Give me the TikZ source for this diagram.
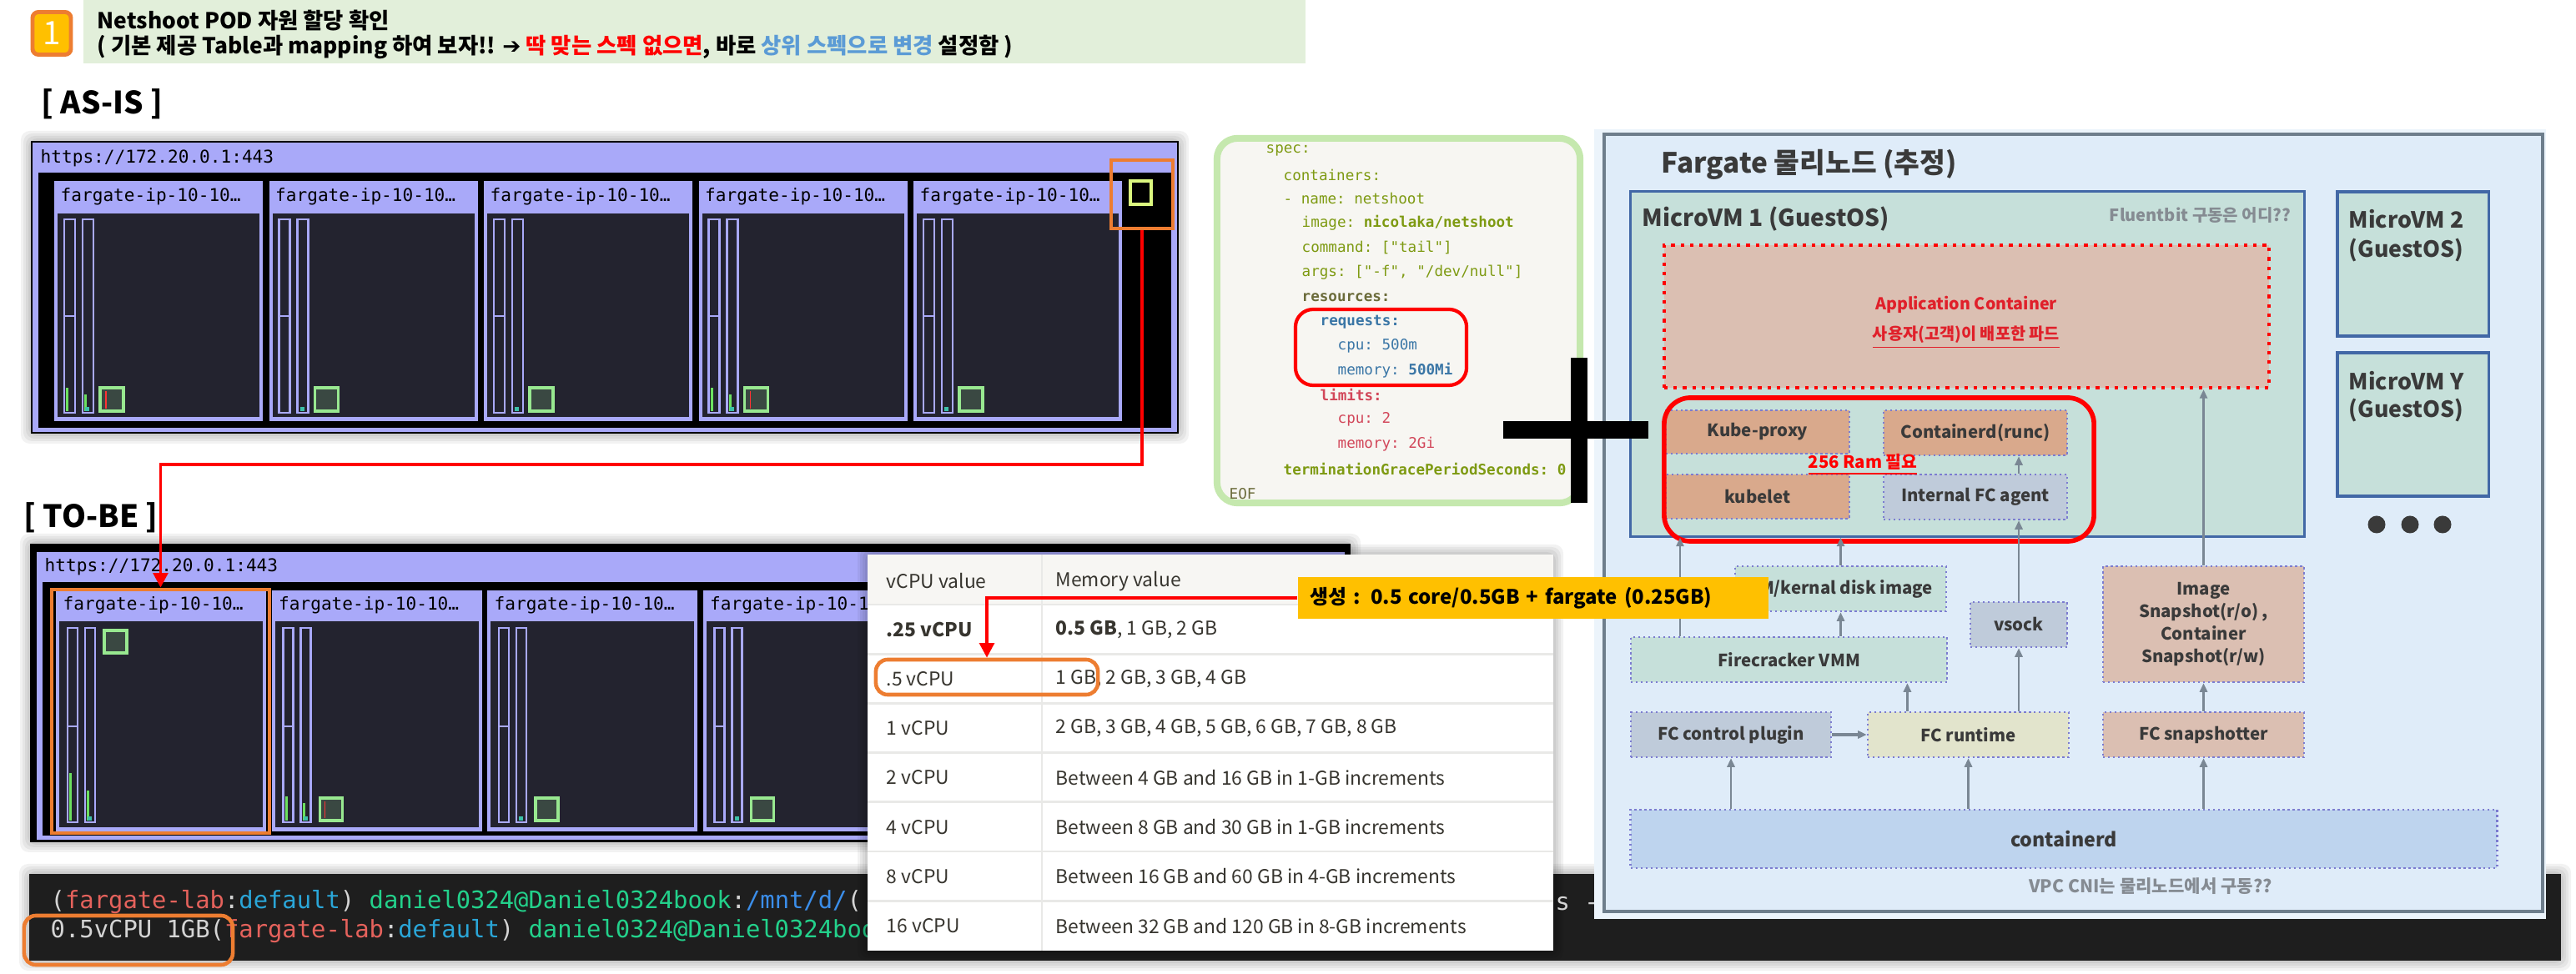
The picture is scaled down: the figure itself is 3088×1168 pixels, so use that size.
\documentclass[tikz,border=0pt]{standalone}
\usepackage{fontspec}
\setmainfont{Noto Sans CJK KR}
\setmonofont{DejaVu Sans Mono}
\newfontfamily\symfont{DejaVu Sans}
\usetikzlibrary{arrows.meta,calc}

\definecolor{lav}{HTML}{A9A9F9}
\definecolor{cardbg}{HTML}{23232F}
\definecolor{podgreen}{HTML}{98E890}
\definecolor{podfill}{HTML}{3A4842}
\definecolor{barlime}{HTML}{6CE060}
\definecolor{barteal}{HTML}{3CC0A8}
\definecolor{hlorange}{HTML}{ED7D31}
\definecolor{callyellow}{HTML}{FFC000}
\definecolor{bannergreen}{HTML}{E2EFDA}
\definecolor{upblue}{HTML}{5B9BD5}
\definecolor{tabtext}{HTML}{37352F}
\definecolor{tabhead}{HTML}{F7F6F3}
\definecolor{tabline}{HTML}{E9E9E7}
\definecolor{termbg}{HTML}{1E1E1E}
\definecolor{termgray}{HTML}{D4D4D4}
\definecolor{termred}{HTML}{E5625C}
\definecolor{termcyan}{HTML}{2AA6D8}
\definecolor{termgreen}{HTML}{23D18B}
\definecolor{termblue}{HTML}{3B8EEA}
\definecolor{yamlolive}{HTML}{7E9A12}
\definecolor{yamldark}{HTML}{6B6B3A}
\definecolor{yamlblue}{HTML}{3A76A6}
\definecolor{yamlred}{HTML}{D2475A}
\definecolor{yamlbg}{HTML}{F7F6F2}
\definecolor{yamlframe}{HTML}{C5E8AE}
\definecolor{fgbg}{HTML}{DFECF9}
\definecolor{fgframe}{HTML}{6E7E8C}
\definecolor{vmteal}{HTML}{C6E0DA}
\definecolor{vmedge}{HTML}{4268A6}
\definecolor{salmon}{HTML}{DBBFB2}
\definecolor{salmondk}{HTML}{D9A98C}
\definecolor{slate}{HTML}{BFCBDA}
\definecolor{cream}{HTML}{E2E4CC}
\definecolor{ctrblue}{HTML}{BED4EE}
\definecolor{dotedge}{HTML}{7C7CD0}
\definecolor{fgtext}{HTML}{3A3A3A}
\definecolor{fgnote}{HTML}{858B92}
\definecolor{arrowgray}{HTML}{7A8794}
\definecolor{notered}{HTML}{E0202A}

\newcommand\setsz[1]{\fontsize{#1}{#1}\selectfont}
\newcommand\panelhalo[4]{%
  \foreach \h in {3,6,9,12}
    \fill[black, opacity=0.05, rounded corners=3pt] (#1-\h,#2-\h) rectangle (#3+\h,#4+\h);}

\begin{document}
\begin{tikzpicture}[x=0.01cm, y=-0.01cm, font=\setsz{6pt},
  txt/.style={inner sep=0pt},
  lavbar/.style={draw=lav, line width=0.6pt},
  pod/.style={draw=podgreen, line width=1.1pt, fill=podfill},
  hlbox/.style={draw=hlorange, line width=1.3pt},
  redarr/.style={red, line width=1.1pt, -{Triangle[length=5pt, width=5pt]}},
  garrow/.style={arrowgray, line width=0.7pt, -{Triangle[length=3pt, width=2.6pt]}},
  fgbox/.style={draw=dotedge, densely dotted, line width=0.7pt, text=fgtext, font=\setsz{5.8pt}\bfseries},
  vmbox/.style={draw=vmedge, line width=0.9pt, fill=vmteal},
  yamlline/.style={txt, anchor=west, font=\ttfamily\setsz{5pt}}]
\fill[white] (0,0) rectangle (3088,1168);
\useasboundingbox (0,0) rectangle (3088,1168);

% title banner
\fill[bannergreen] (100,0) rectangle (1565,76);
\node[draw=hlorange, fill=callyellow, line width=1.4pt, rounded corners=2pt, minimum width=0.46cm, minimum height=0.47cm,
  text=white, font=\setsz{11pt}] (numbadge) at (62,40) {1};
\node[txt, anchor=west, font=\setsz{7.5pt}\bfseries] (ttl) at (116,25) {Netshoot POD 자원 할당 확인};
\node[txt, anchor=west, font=\setsz{7.5pt}\bfseries] (subttl) at (116,56) {( 기본 제공 Table과 mapping 하여 보자!! {\symfont\bfseries ➔} \textcolor{red}{딱 맞는 스펙 없으면}, 바로 \textcolor{upblue}{상위 스펙으로 변경} 설정함 )};

% AS-IS dashboard
\node[txt, anchor=west, font=\setsz{10.5pt}\bfseries] (asis) at (49,125) {[ AS-IS ]};
\panelhalo{37}{169}{1413}{520}
\fill[black] (37,169) rectangle (1413,520);
\fill[lav] (39,171) rectangle (1411,518);
\fill[black] (46,207) rectangle (1404,513);
\node[txt, anchor=west, font=\ttfamily\setsz{6pt}] (asurl) at (48,190) {https://172.20.0.1:443};
\foreach \i/\ga/\gb/\rl in {0/248/256/1, 1/0/0/0, 2/0/0/0, 3/248/256/1, 4/0/0/0} {
  \begin{scope}[shift={(65+257.5*\i,217)}]
    \fill[lav] (0,0) rectangle (250,288);
    \fill[cardbg] (4,39) rectangle (246,283);
    \node[txt, anchor=west, font=\ttfamily\setsz{6pt}] (asname\i) at (7,19) {fargate-ip-10-10…};
    \draw[lavbar] (12,46) rectangle (25,278) (12,162) -- (25,162) (34,46) rectangle (47,278);
    \ifnum\ga>0
      \fill[barlime] (14,\ga) rectangle (17,276);
      \fill[barlime] (36,\gb) rectangle (39,276);
    \fi
    \fill[barteal] (37,271) rectangle (42,276);
    \draw[pod] (55,248) rectangle (83,276);
    \ifnum\rl=1 \draw[red!80, line width=0.5pt] (62,252) -- (62,273); \fi
  \end{scope}
}
\draw[draw=podgreen!50!yellow!70!white, line width=1.1pt, fill=black] (1355,217) rectangle (1380,245);
\node[hlbox, minimum width=0.74cm, minimum height=0.82cm] (ashl) at (1369,233) {};

% TO-BE dashboard
\node[txt, anchor=west, font=\setsz{10.5pt}\bfseries] (tobe) at (28,621) {[ TO-BE ]};
\panelhalo{36}{652}{1619}{1010}
\fill[black] (36,652) rectangle (1619,1010);
\fill[lav] (44,662) rectangle (1612,1007);
\fill[black] (51,698) rectangle (1605,1002);
\node[txt, anchor=west, font=\ttfamily\setsz{6pt}] (tburl) at (53,680) {https://172.20.0.1:443};
\foreach \i/\ga/\gb/\py/\rl in {0/219/240/48/0, 1/247/255/249/1, 2/0/0/249/0, 3/0/0/249/0} {
  \begin{scope}[shift={(67+258.5*\i,708)}]
    \fill[lav] (0,0) rectangle (252,289);
    \fill[cardbg] (4,37) rectangle (248,284);
    \node[txt, anchor=west, font=\ttfamily\setsz{6pt}] (tbname\i) at (8,18) {fargate-ip-10-10…};
    \draw[lavbar] (14,45) rectangle (26,278) (14,163) -- (26,163) (35,45) rectangle (47,278);
    \ifnum\ga>0
      \fill[barlime] (16,\ga) rectangle (19,276);
      \fill[barlime] (37,\gb) rectangle (40,276);
    \fi
    \fill[barteal] (38,271) rectangle (43,276);
    \draw[pod] (58,\py) rectangle (85,\py+27);
    \ifnum\rl=1 \draw[red!80, line width=0.5pt] (64,\py+4) -- (64,\py+24); \fi
  \end{scope}
}
\node[hlbox, minimum width=2.61cm, minimum height=2.92cm] (tobehl) at (192.5,853) {};

% terminal
\panelhalo{35}{1048}{3070}{1152}
\fill[termbg] (35,1048) rectangle (3070,1152);
\node[txt, anchor=west, font=\ttfamily\setsz{8.2pt}, text=termgray] (tline1) at (60,1082)
  {(\textcolor{termred}{fargate-lab}:\textcolor{termcyan}{default}) \textcolor{termgreen}{daniel0324@Daniel0324book}:\textcolor{termblue}{/mnt/d/}(};
\node[txt, anchor=west, font=\ttfamily\setsz{8.2pt}, text=termgray] (tline2) at (60,1117)
  {0.5vCPU 1GB(\textcolor{termred}{fargate-lab}:\textcolor{termcyan}{default}) \textcolor{termgreen}{daniel0324@Daniel0324book}};
\node[draw=hlorange, line width=1.3pt, rounded corners=4pt, minimum width=2.5cm, minimum height=0.59cm] (termhl) at (154,1127.5) {};

% Fargate vCPU / memory table
\panelhalo{1040}{665}{1862}{1140}
\fill[white] (1040,665) rectangle (1862,1140);
\fill[tabhead] (1040,665) rectangle (1862,725);
\draw[tabline, line width=0.8pt] (1249,665) -- (1249,1140);
\node[txt, anchor=west, text=tabtext, font=\setsz{6.5pt}] (hcpu) at (1062,697) {vCPU value};
\node[txt, anchor=west, text=tabtext, font=\setsz{6.5pt}] (hmem) at (1265,697) {Memory value};
\foreach \r/\cpu/\mem in {1/{\textbf{.25 vCPU}}/{\textbf{0.5 GB}, 1 GB, 2 GB},
    2/{.5 vCPU}/{1 GB, 2 GB, 3 GB, 4 GB},
    3/{1 vCPU}/{2 GB, 3 GB, 4 GB, 5 GB, 6 GB, 7 GB, 8 GB},
    4/{2 vCPU}/{Between 4 GB and 16 GB in 1-GB increments},
    5/{4 vCPU}/{Between 8 GB and 30 GB in 1-GB increments},
    6/{8 vCPU}/{Between 16 GB and 60 GB in 4-GB increments},
    7/{16 vCPU}/{Between 32 GB and 120 GB in 8-GB increments}} {
  \draw[tabline, line width=0.8pt] (1040,725+59.2*\r-59.2) -- (1862,725+59.2*\r-59.2);
  \node[txt, anchor=west, text=tabtext, font=\setsz{6.5pt}] (cpu\r) at (1062,755+59.2*\r-59.2) {\cpu};
  \node[txt, anchor=west, text=tabtext, font=\setsz{6.5pt}] (mem\r) at (1265,755+59.2*\r-59.2) {\mem};
}
\node[draw=hlorange, line width=1.3pt, rounded corners=4pt, minimum width=2.66cm, minimum height=0.42cm] (pickhl) at (1183,812) {};
\node[txt, anchor=west, font=\ttfamily\setsz{8.2pt}, text=termgray] (tfrag) at (1864,1084) {s -};

% pod spec
\node[draw=yamlframe, line width=2.3pt, fill=yamlbg, rounded corners=7pt, minimum width=4.35cm, minimum height=4.37cm] (yaml) at (1676.5,384.5) {};
\foreach \x/\y/\c/\t in {1517/180/yamlolive/{spec:}, 1538/210/yamlolive/{containers:},
    1538/238/yamlolive/{- name: netshoot}, 1560/267/yamlolive/{image: \textbf{nicolaka/netshoot}},
    1560/297/yamlolive/{command: ["tail"]}, 1560/327/yamlolive/{args: ["-f", "/dev/null"]},
    1560/357/yamldark/{\textbf{resources:}}, 1582/386/yamlblue/{\textbf{requests:}},
    1603/415/yamlblue/{cpu: 500m}, 1603/444/yamlblue/{memory: \textbf{500Mi}},
    1582/473/yamlred/{\textbf{limits:}}, 1603/503/yamlred/{cpu: 2}, 1603/533/yamlred/{memory: 2Gi},
    1538/562/yamlolive/{\textbf{terminationGracePeriodSeconds: 0}}, 1473/592/yamldark/{EOF}} {
  \node[yamlline, text=\c] (yl\y) at (\x,\y) {\t};
}
\node[draw=red, line width=1.2pt, rounded corners=6pt, minimum width=2.05cm, minimum height=0.91cm] (reqhl) at (1655.5,416.5) {};

% Fargate node (guessed layout)
\fill[fgbg!60!white] (1911,155) rectangle (3052,1102);
\draw[fgframe, line width=1.2pt, fill=fgbg] (1923,161) rectangle (3048,1093);
\node[txt, anchor=west, text=fgtext, font=\setsz{9.5pt}\bfseries] (fgtitle) at (1991,197) {Fargate 물리노드 (추정)};
\node[vmbox, minimum width=8.07cm, minimum height=4.13cm] (mvm1) at (2358.5,436.5) {};
\node[txt, anchor=west, text=fgtext, font=\setsz{8pt}\bfseries] (mvm1lbl) at (1968,263) {MicroVM 1 (GuestOS)};
\node[txt, anchor=east, text=fgnote, font=\setsz{5.7pt}\bfseries] (fluent) at (2747,258) {Fluentbit 구동은 어디??};
\node[draw=red, dotted, line width=1.2pt, fill=salmon, minimum width=7.25cm, minimum height=1.71cm] (app) at (2357.5,379.5) {};
\node[txt, text=notered, font=\setsz{5.6pt}\bfseries] (apptxt) at (2357,365) {Application Container};
\node[txt, text=notered, font=\setsz{5.6pt}\bfseries] (appko) at (2357,405) {\underline{사용자(고객)이 배포한 파드}};
\node[fgbox, fill=salmondk, minimum width=2.2cm, minimum height=0.52cm] (kproxy) at (2107,518) {Kube-proxy};
\node[fgbox, fill=salmondk, minimum width=2.2cm, minimum height=0.54cm] (runc) at (2368,519) {Containerd(runc)};
\node[fgbox, fill=salmondk, minimum width=2.2cm, minimum height=0.53cm] (kubelet) at (2107,595.5) {kubelet};
\node[fgbox, fill=slate, minimum width=2.2cm, minimum height=0.54cm] (agent) at (2368,596) {Internal FC agent};
\node[draw=red, line width=1.6pt, rounded corners=9pt, minimum width=5.15cm, minimum height=1.72cm] (agenthl) at (2252.5,563) {};
\node[txt, text=red, font=\setsz{5.8pt}\bfseries] (ramnote) at (2233,557) {\underline{256 Ram 필요}};
\node[vmbox, minimum width=1.81cm, minimum height=1.73cm] (mvm2) at (2892.5,316.5) {};
\node[txt, anchor=west, text=fgtext, font=\setsz{7.6pt}\bfseries] (mvm2lbl) at (2815,263) {MicroVM 2};
\node[txt, anchor=west, text=fgtext, font=\setsz{7.6pt}\bfseries] (mvm2os) at (2815,300) {(GuestOS)};
\node[vmbox, minimum width=1.81cm, minimum height=1.72cm] (mvmy) at (2892.5,509) {};
\node[txt, anchor=west, text=fgtext, font=\setsz{7.6pt}\bfseries] (mvmylbl) at (2815,457) {MicroVM Y};
\node[txt, anchor=west, text=fgtext, font=\setsz{7.6pt}\bfseries] (mvmyos) at (2815,492) {(GuestOS)};
\foreach \d/\x in {1/2849, 2/2889, 3/2928}
  \node[circle, fill=fgtext, inner sep=0pt, minimum size=0.21cm] (dot\d) at (\x,629) {};

\node[fgbox, fill=vmteal, minimum width=2.53cm, minimum height=0.54cm] (dimg) at (2206.5,706) {VM/kernal disk image};
\node[fgbox, fill=vmteal, minimum width=3.79cm, minimum height=0.54cm] (vmm) at (2144.5,791) {Firecracker VMM};
\node[fgbox, fill=slate, minimum width=1.16cm, minimum height=0.54cm] (vsock) at (2420,749) {vsock};
\node[fgbox, fill=salmon, minimum width=2.41cm, minimum height=1.39cm, align=center,
  font=\fontsize{5.8pt}{7.7pt}\selectfont\bfseries] (imgsnap) at (2641.5,748.5) {Image\\Snapshot(r/o) ,\\Container\\Snapshot(r/w)};
\node[fgbox, fill=slate, minimum width=2.4cm, minimum height=0.54cm] (plug) at (2075,881) {FC control plugin};
\node[fgbox, fill=cream, minimum width=2.41cm, minimum height=0.54cm] (fcrt) at (2359.5,881) {FC runtime};
\node[fgbox, fill=salmon, minimum width=2.41cm, minimum height=0.54cm] (snap) at (2641.5,881) {FC snapshotter};
\node[fgbox, fill=ctrblue, minimum width=10.38cm, minimum height=0.70cm, font=\setsz{6.6pt}\bfseries] (ctrd) at (2474,1006) {containerd};
\node[txt, text=fgnote, font=\setsz{6pt}\bfseries] (vpcnote) at (2578,1063) {VPC CNI는 물리노드에서 구동??};

\coordinate (rt1) at ($(fcrt.north west)!.2!(fcrt.north east)$);
\coordinate (vm1) at ($(vmm.north west)!.158!(vmm.north east)$);
\draw[garrow] (ctrd.north -| plug) -- (plug.south);
\draw[garrow] (ctrd.north -| fcrt) -- (fcrt.south);
\draw[garrow] (ctrd.north -| snap) -- (snap.south);
\draw[garrow, line width=1.4pt] (plug.east) -- (fcrt.west);
\draw[garrow] (rt1) -- (rt1 |- vmm.south);
\draw[garrow] (fcrt.north -| vsock) -- (vsock.south);
\draw[garrow] (snap.north) -- (imgsnap.south);
\draw[garrow] (vmm.north -| dimg) -- (dimg.south);
\draw[garrow] (vm1) -- (vm1 |- mvm1.south);
\draw[garrow] (dimg.north) -- (dimg |- mvm1.south);
\draw[garrow] (vsock.north) -- (vsock |- agent.south);
\draw[garrow] (agent.north -| vsock) -- (vsock |- runc.south);
\draw[garrow] (imgsnap.north) -- (imgsnap |- app.south);

% plus sign
\fill[black] (1883,429) rectangle (1903,603);
\fill[black] (1802,505) rectangle (1976,526);

% callout and red arrows
\node[fill=callyellow, anchor=west, minimum height=0.46cm, text width=5.34cm, inner xsep=0.15cm,
  font=\setsz{6.8pt}\bfseries] (callout) at (1555,717) {생성 : 0.5 core/0.5GB + fargate (0.25GB)};
\draw[redarr] (callout.west) -| (pickhl.north);
\coordinate (bend) at (192.5,557);
\draw[redarr] (ashl.south) |- (bend) -- (tobehl.north);
\end{tikzpicture}
\end{document}
